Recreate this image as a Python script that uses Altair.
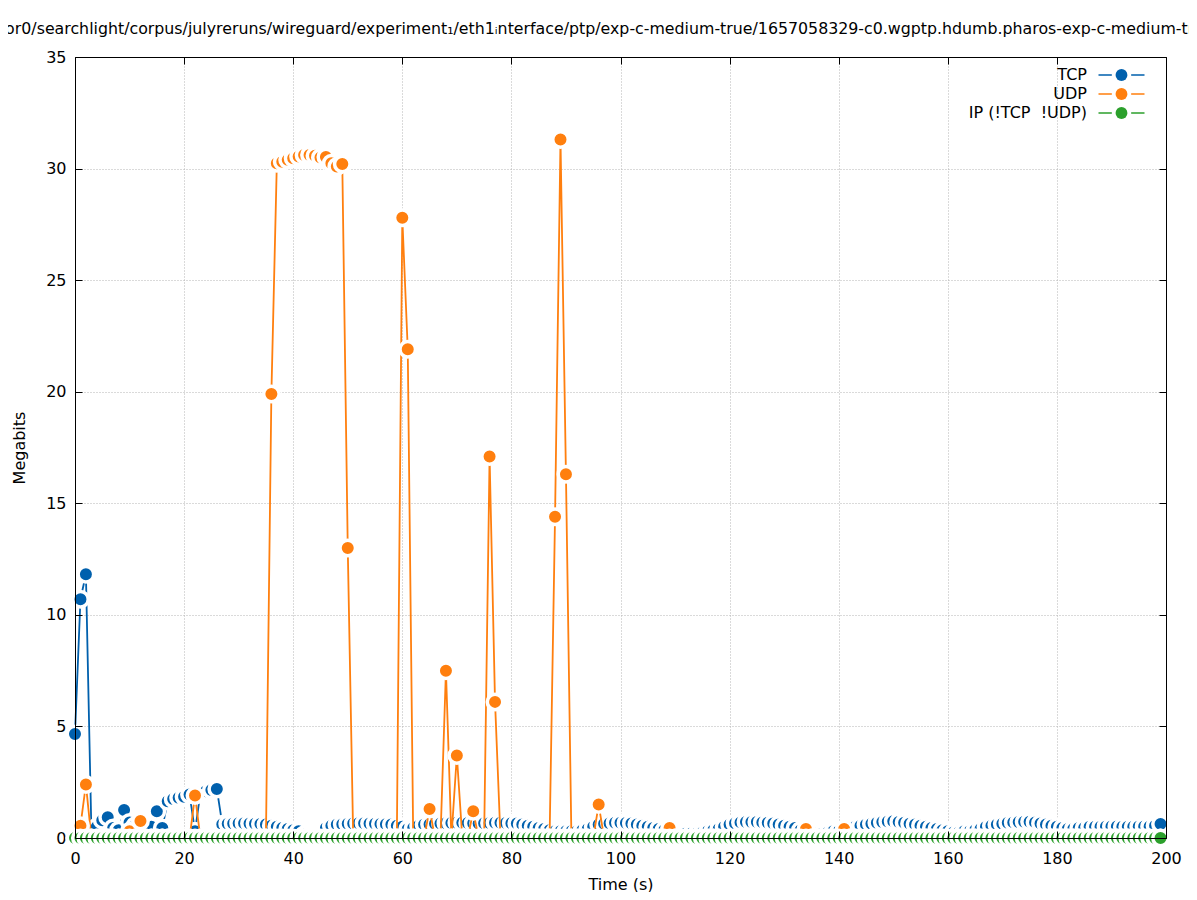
import altair as alt
import pandas as pd

seconds = list(range(200))

tcp = [
    4.66, 10.7, 11.82, 0.35, 0.5, 0.8, 0.93, 0.45, 0.35, 1.25,
    0.7, 0.55, 0.45, 0.4, 0.5, 1.2, 0.45, 1.65, 1.75, 1.8,
    1.85, 1.95, 0.3, 2.05, 2.1, 2.15, 2.2, 0.62, 0.64, 0.65,
    0.66, 0.66, 0.65, 0.64, 0.63, 0.6, 0.55, 0.5, 0.45, 0.4,
    0.35, 0.3, 0.15, 0.1, 0.1, 0.15, 0.45, 0.55, 0.6, 0.62,
    0.64, 0.65, 0.66, 0.66, 0.65, 0.64, 0.63, 0.62, 0.6, 0.55,
    0.5, 0.4, 0.45, 0.55, 0.6, 0.62, 0.64, 0.65, 0.66, 0.67,
    0.68, 0.68, 0.67, 0.66, 0.65, 0.66, 0.67, 0.68, 0.68, 0.67,
    0.66, 0.65, 0.6, 0.55, 0.5, 0.45, 0.4, 0.35, 0.3, 0.3,
    0.3, 0.3, 0.3, 0.35, 0.4, 0.5, 0.6, 0.64, 0.66, 0.68,
    0.68, 0.67, 0.65, 0.6, 0.55, 0.5, 0.45, 0.4, 0.35, 0.3,
    0.25, 0.2, 0.2, 0.2, 0.2, 0.25, 0.3, 0.35, 0.4, 0.5,
    0.6, 0.66, 0.7, 0.72, 0.72, 0.72, 0.7, 0.68, 0.65, 0.6,
    0.55, 0.5, 0.45, 0.35, 0.3, 0.25, 0.2, 0.2, 0.25, 0.3,
    0.3, 0.35, 0.4, 0.5, 0.55, 0.6, 0.64, 0.68, 0.72, 0.74,
    0.75, 0.72, 0.68, 0.64, 0.6, 0.55, 0.5, 0.45, 0.4, 0.35,
    0.3, 0.25, 0.25, 0.3, 0.3, 0.35, 0.4, 0.5, 0.55, 0.6,
    0.64, 0.68, 0.7, 0.72, 0.73, 0.73, 0.7, 0.65, 0.6, 0.55,
    0.5, 0.45, 0.4, 0.4, 0.45, 0.45, 0.5, 0.5, 0.5, 0.52,
    0.52, 0.52, 0.5, 0.5, 0.5, 0.52, 0.52, 0.52, 0.55, 0.63,
]

udp = [
    0, 0.55, 2.4, 0, 0, 0, 0, 0, 0, 0,
    0.3, 0, 0.76, 0, 0, 0, 0, 0, 0, 0,
    0, 0, 1.9, 0, 0, 0, 0, 0, 0, 0,
    0, 0, 0, 0, 0, 0, 19.9, 30.24, 30.31, 30.39,
    30.46, 30.54, 30.61, 30.61, 30.57, 30.5, 30.52, 30.24, 30.09, 30.2,
    13.0, 0, 0, 0, 0, 0, 0, 0, 0, 0,
    27.8, 21.9, 0, 0, 0, 1.3, 0, 0, 7.5, 0,
    3.7, 0, 0, 1.2, 0, 0, 17.1, 6.1, 0, 0,
    0, 0, 0, 0, 0, 0, 0, 0, 14.4, 31.3,
    16.3, 0, 0, 0, 0, 0, 1.5, 0, 0, 0,
    0, 0, 0, 0, 0, 0, 0, 0, 0, 0.45,
    0, 0, 0, 0, 0, 0, 0, 0, 0, 0,
    0, 0, 0, 0, 0, 0, 0, 0, 0, 0,
    0, 0, 0, 0, 0.4, 0, 0, 0, 0, 0,
    0, 0.4, 0, 0, 0, 0, 0, 0, 0, 0,
    0, 0, 0, 0, 0, 0, 0, 0, 0, 0,
    0, 0, 0, 0, 0, 0, 0, 0, 0, 0,
    0, 0, 0, 0, 0, 0, 0, 0, 0, 0,
    0, 0, 0, 0, 0, 0, 0, 0, 0, 0,
    0, 0, 0, 0, 0, 0, 0, 0, 0, 0,
]

ip = [0.0] * 200

series_names = ["TCP", "UDP", "IP (!TCP \u00a0!UDP)"]
dot_keys = ["dot TCP", "dot UDP", "dot IP"]
piece_keys = ["piece TCP", "piece UDP", "piece IP"]
series_colors = ["#0060ad", "#ff7f0e", "#2ca02c"]
x_ticks = [0, 20, 40, 60, 80, 100, 120, 140, 160, 180, 200]
y_ticks = [0, 5, 10, 15, 20, 25, 30, 35]

title_text = ("/sensor0/searchlight/corpus/julyreruns/wireguard/experiment\u2081/"
              "eth1\u1d62nterface/ptp/exp-c-medium-true/1657058329-c0.wgptp.hdumb."
              "pharos-exp-c-medium-true.pcapng")

W, H = 1091, 781
FONT = "DejaVu Sans"

frames = []
for name, key, piece, vals in zip(series_names, dot_keys, piece_keys, [tcp, udp, ip]):
    frames.append(pd.DataFrame({"t": seconds, "v": vals, "series": name,
                                "dot": key, "piece": piece}))
df = pd.concat(frames, ignore_index=True)

xscale = alt.Scale(domain=[0, 200], nice=False, zero=False)
yscale = alt.Scale(domain=[0, 35], nice=False)
stroke_scale = alt.Scale(domain=series_names, range=series_colors)
fill_scale = alt.Scale(domain=dot_keys, range=series_colors)
piece_scale = alt.Scale(domain=piece_keys, range=series_colors)

LINE_PATH = "M-1,0L-0.42,0M0.42,0L1,0"

# labels of the key (their own symbols hidden)
label_legend = alt.Legend(
    title=None, orient="none", legendX=964, legendY=8.5,
    symbolType="circle", symbolSize=2116, symbolStrokeWidth=1.6, symbolOpacity=0,
    labelFontSize=16, labelFont=FONT, labelColor="black",
    labelAlign="right", labelOffset=0,
    clipHeight=19, rowPadding=0, padding=0,
)
# line pieces of the key (no text)
piece_legend = alt.Legend(
    title=None, orient="none", legendX=1022.5, legendY=8.5,
    symbolType=LINE_PATH, symbolSize=2116, symbolStrokeWidth=1.6,
    labelFontSize=16, labelExpr="''",
    clipHeight=19, rowPadding=0, padding=0, symbolOpacity=1,
)
# dots of the key, on the middle of the line pieces (no text)
dot_legend = alt.Legend(
    title=None, orient="none", legendX=1038.5, legendY=8.5,
    symbolType="circle", symbolSize=140, symbolStrokeWidth=0,
    labelFontSize=16, labelExpr="''",
    clipHeight=19, rowPadding=0, padding=0, symbolOpacity=1,
)

main_x_axis = alt.Axis(values=x_ticks, title="Time (s)", grid=True, gridDash=[1, 2],
                       gridColor="#b4b4b4", ticks=False, domain=False, labelPadding=12,
                       titlePadding=10, labelFlush=False, labelOverlap=False, zindex=0)
main_y_axis = alt.Axis(values=y_ticks, title="Megabits", grid=True, gridDash=[1, 2],
                       gridColor="#b4b4b4", ticks=False, domain=False, labelPadding=9,
                       titlePadding=18, labelFlush=False, labelOverlap=False, zindex=0)


def tick_axis(orient, offset, values):
    return alt.Axis(orient=orient, offset=offset, values=values, labels=False, title=None,
                    grid=False, domain=True, domainColor="black", domainWidth=1,
                    ticks=True, tickSize=7, tickColor="black", tickWidth=1, zindex=1)


base = alt.Chart(df)
tcp_only = alt.datum.series == "TCP"

axes_main = base.transform_filter(tcp_only).mark_line(opacity=0).encode(
    x=alt.X("t:Q", scale=xscale, axis=main_x_axis),
    y=alt.Y("v:Q", scale=yscale, axis=main_y_axis),
)
axes_a = base.transform_filter(tcp_only).mark_line(opacity=0).encode(
    x=alt.X("t:Q", scale=xscale, axis=tick_axis("top", -H, x_ticks)),
    y=alt.Y("v:Q", scale=yscale, axis=tick_axis("right", -W, y_ticks)),
)
axes_b = base.transform_filter(tcp_only).mark_line(opacity=0).encode(
    x=alt.X("t:Q", scale=xscale, axis=tick_axis("bottom", -H, x_ticks)),
    y=alt.Y("v:Q", scale=yscale, axis=tick_axis("left", -W, y_ticks)),
)
# draws nothing itself; only carries the line pieces of the key
key_pieces = base.transform_filter("false").mark_point(filled=False).encode(
    x=alt.X("t:Q", scale=xscale, axis=None),
    y=alt.Y("v:Q", scale=yscale, axis=None),
    color=alt.Color("piece:N", scale=piece_scale, legend=piece_legend),
)

layers = [axes_main, axes_a, axes_b, key_pieces]
for name in series_names:
    sub = base.transform_filter(alt.datum.series == name)
    line = sub.mark_line(strokeWidth=1.8).encode(
        x=alt.X("t:Q", scale=xscale, axis=None),
        y=alt.Y("v:Q", scale=yscale, axis=None),
        stroke=alt.Stroke("series:N", scale=stroke_scale, legend=label_legend),
        order=alt.Order("t:Q"),
    )
    pts = sub.mark_circle(size=240, stroke="white", strokeWidth=3.5, opacity=1).encode(
        x=alt.X("t:Q", scale=xscale, axis=None),
        y=alt.Y("v:Q", scale=yscale, axis=None),
        fill=alt.Fill("dot:N", scale=fill_scale, legend=dot_legend),
        order=alt.Order("t:Q"),
    )
    layers += [line, pts]

chart = alt.layer(*layers).resolve_axis(x="independent", y="independent").properties(
    width=W, height=H,
    background="white",
    title=alt.TitleParams(text=title_text, anchor="middle", frame="group", fontSize=15.8,
                          font=FONT, fontWeight="normal", color="black", offset=11),
    autosize=alt.AutoSizeParams(type="none"),
    padding={"left": 67, "top": 49, "right": 23, "bottom": 54},
).configure_view(stroke=None).configure_axis(
    labelFont=FONT, titleFont=FONT, labelFontSize=16, titleFontSize=16,
    titleFontWeight="normal", labelColor="black", titleColor="black",
)

chart.save("out.html", embed_options={"renderer": "svg", "actions": False})
